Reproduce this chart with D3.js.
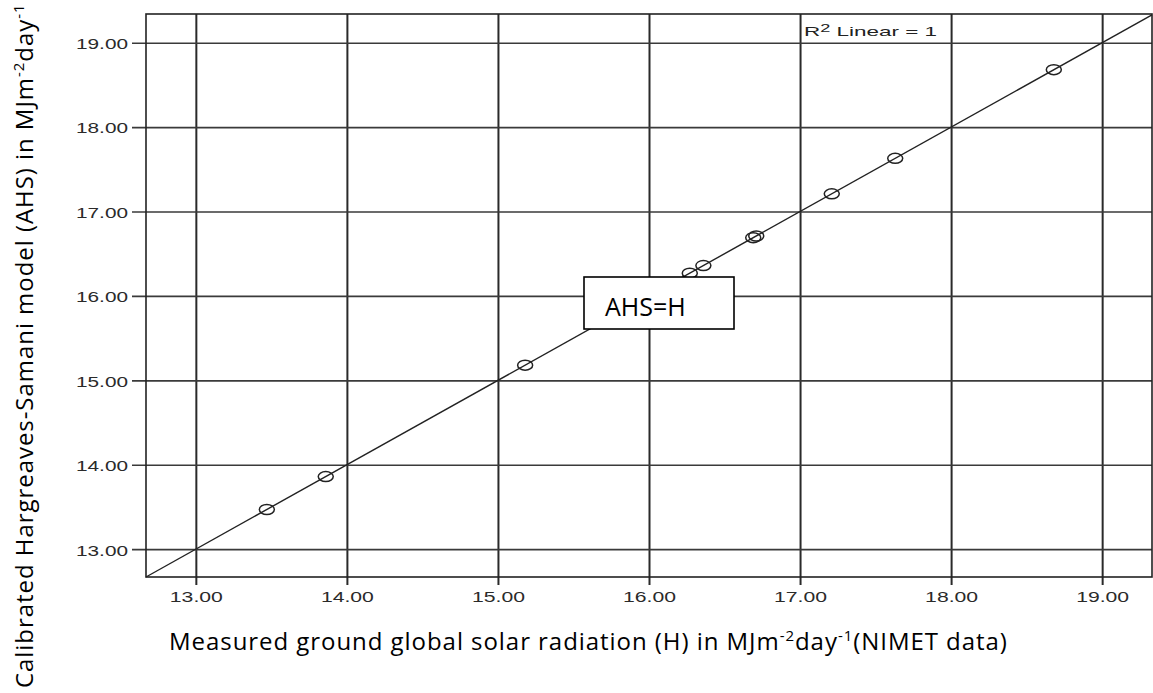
<!DOCTYPE html>
<html>
<head>
<meta charset="utf-8">
<script src="https://cdn.jsdelivr.net/npm/d3@7"></script>
<style>
  body { margin: 0; background: #fff; }
  svg { display: block; }
</style>
</head>
<body>
<div id="chart"></div>
<script>
// measured H (x) and calibrated AHS (y), MJ m-2 day-1
const measuredH = [13.47, 13.86, 15.18, 16.27, 16.36, 16.69, 16.71, 17.21, 17.63, 18.68];
const calibratedAHS = [13.47, 13.86, 15.18, 16.27, 16.36, 16.69, 16.71, 17.21, 17.63, 18.68];
const xTicks = [13, 14, 15, 16, 17, 18, 19];
const yTicks = [13, 14, 15, 16, 17, 18, 19];
const xDomain = [12.67, 19.33];
const yDomain = [12.67, 19.34];
const fitLine = [12.67, 19.33];   // AHS = H

const W = 1153, H = 693;
const margin = { top: 14, left: 146, bottom: 116, right: 1 };
const width = W - margin.left - margin.right;
const height = H - margin.top - margin.bottom;

const svg = d3.select('#chart').append('svg')
  .attr('width', W)
  .attr('height', H);

const g = svg.append('g')
  .attr('transform', `translate(${margin.left},${margin.top})`);

const x = d3.scaleLinear().domain(xDomain).range([0, width]);
const y = d3.scaleLinear().domain(yDomain).range([height, 0]);

const spssFont = 'Arial, "Liberation Sans", sans-serif';
const wordFont = '"Open Sans", sans-serif';

//--------------------------------------------------------------
// axes + grid
//--------------------------------------------------------------
const xAxis = g.append('g')
  .attr('class', 'x-axis')
  .attr('transform', `translate(0,${height})`)
  .call(d3.axisBottom(x).tickValues(xTicks).tickSizeInner(-height).tickSizeOuter(0)
    .tickPadding(14).tickFormat(d3.format('.2f')));

xAxis.select('.domain').remove();
xAxis.selectAll('.tick line')
  .attr('y1', 8)
  .attr('stroke', '#2a2a2a')
  .attr('stroke-width', 2);
xAxis.selectAll('.tick text')
  .attr('font-family', spssFont)
  .attr('font-size', 15)
  .attr('fill', '#2a2a2a')
  .attr('textLength', 53)
  .attr('lengthAdjust', 'spacingAndGlyphs');

const yAxis = g.append('g')
  .attr('class', 'y-axis')
  .call(d3.axisLeft(y).tickValues(yTicks).tickSizeInner(-width).tickSizeOuter(0)
    .tickPadding(18).tickFormat(d3.format('.2f')));

yAxis.select('.domain').remove();
yAxis.selectAll('.tick line')
  .attr('x1', -14)
  .attr('stroke', '#3a3a3a')
  .attr('stroke-width', 1.6);
yAxis.selectAll('.tick text')
  .attr('font-family', spssFont)
  .attr('font-size', 14)
  .attr('fill', '#2a2a2a')
  .attr('dy', '0.42em')
  .attr('textLength', 52)
  .attr('lengthAdjust', 'spacingAndGlyphs');

// frame
g.append('rect')
  .attr('width', width)
  .attr('height', height)
  .attr('fill', 'none')
  .attr('stroke', '#222')
  .attr('stroke-width', 1.6);

//--------------------------------------------------------------
// fit line and points
//--------------------------------------------------------------
g.append('line')
  .attr('x1', x(fitLine[0]))
  .attr('y1', y(fitLine[0]))
  .attr('x2', x(fitLine[1]))
  .attr('y2', y(fitLine[1]))
  .attr('stroke', '#222')
  .attr('stroke-width', 1.4);

g.append('g').selectAll('ellipse')
  .data(measuredH.map((d, i) => ({ h: d, ahs: calibratedAHS[i] })))
  .enter().append('ellipse')
  .attr('cx', d => x(d.h))
  .attr('cy', d => y(d.ahs))
  .attr('rx', 7.5)
  .attr('ry', 5)
  .attr('fill', 'none')
  .attr('stroke', '#222')
  .attr('stroke-width', 1.5);

// R2 label
const r2 = g.append('text')
  .attr('x', x(17) + 4)
  .attr('y', 22)
  .attr('font-family', spssFont)
  .attr('font-size', 13)
  .attr('fill', '#222')
  .attr('textLength', 133)
  .attr('lengthAdjust', 'spacingAndGlyphs');
r2.append('tspan').text('R');
r2.append('tspan').attr('dy', -4).attr('font-size', 10.5).text('2');
r2.append('tspan').attr('dy', 4).text(' Linear = 1');

//--------------------------------------------------------------
// AHS=H box
//--------------------------------------------------------------
const boxX = 584, boxY = 277;
svg.append('rect')
  .attr('x', boxX)
  .attr('y', boxY)
  .attr('width', 150)
  .attr('height', 52)
  .attr('fill', '#fff')
  .attr('stroke', '#000')
  .attr('stroke-width', 1.6);

svg.append('text')
  .attr('x', boxX + 21)
  .attr('y', boxY + 39)
  .attr('font-family', wordFont)
  .attr('font-size', 25)
  .attr('fill', '#000')
  .text('AHS=H');

//--------------------------------------------------------------
// axis titles
//--------------------------------------------------------------
const titleSize = 24, supSize = 15, spacing = 0.95;

const xt = svg.append('text')
  .attr('x', 169)
  .attr('y', 650)
  .attr('font-family', wordFont)
  .attr('font-size', titleSize)
  .attr('letter-spacing', spacing)
  .attr('fill', '#000');
xt.append('tspan').text('Measured ground global solar radiation (H) in MJm');
xt.append('tspan').attr('dy', -9).attr('font-size', supSize).text('-2');
xt.append('tspan').attr('dy', 9).text('day');
xt.append('tspan').attr('dy', -9).attr('font-size', supSize).text('-1');
xt.append('tspan').attr('dy', 9).text('(NIMET data)');

const yt = svg.append('text')
  .attr('transform', 'translate(33,688) rotate(-90)')
  .attr('font-family', wordFont)
  .attr('font-size', titleSize)
  .attr('letter-spacing', spacing)
  .attr('fill', '#000');
yt.append('tspan').text('Calibrated Hargreaves-Samani model (AHS) in MJm');
yt.append('tspan').attr('dy', -9).attr('font-size', supSize).text('-2');
yt.append('tspan').attr('dy', 9).text('day');
yt.append('tspan').attr('dy', -9).attr('font-size', supSize).text('-1');
</script>
</body>
</html>
